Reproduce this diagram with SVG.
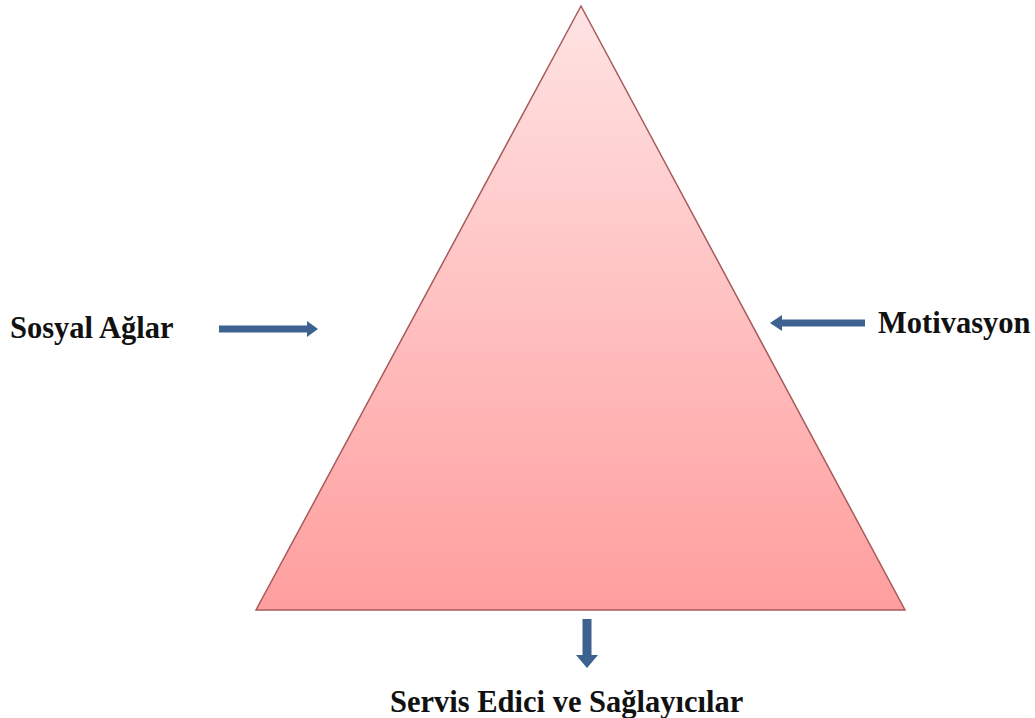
<svg xmlns="http://www.w3.org/2000/svg" width="1035" height="718" viewBox="0 0 1035 718">
<defs>
<linearGradient id="g" x1="0" y1="0" x2="0" y2="1">
<stop offset="0" stop-color="#ffe3e3"/>
<stop offset="1" stop-color="#ff9e9e"/>
</linearGradient>
<style>
.t{font-family:"Liberation Serif","Times New Roman",serif;font-weight:bold;font-size:30.5px;fill:#111}
.a{fill:#3d6290}
</style>
</defs>
<rect width="1035" height="718" fill="#fff"/>
<g id="triangle">
<polygon points="581,6 256,610 905,610" fill="url(#g)" stroke="#a85a5a" stroke-width="1.5"/>
</g>
<g id="connectors">
<polygon class="a" points="219,325.5 307,325.5 307,321 318,329 307,337 307,332.5 219,332.5"/>
<polygon class="a" points="865,319.5 782,319.5 782,315 770,323 782,331 782,326.5 865,326.5"/>
<polygon class="a" points="582.5,619 591.5,619 591.5,655 598,655 587,668 576,655 582.5,655"/>
</g>
<g id="sosyal"><text class="t" x="10" y="338">Sosyal Ağlar</text></g>
<g id="motivasyon"><text class="t" x="878" y="333">Motivasyon</text></g>
<g id="servis"><text class="t" x="390" y="712">Servis Edici ve Sağlayıcılar</text></g>
</svg>
